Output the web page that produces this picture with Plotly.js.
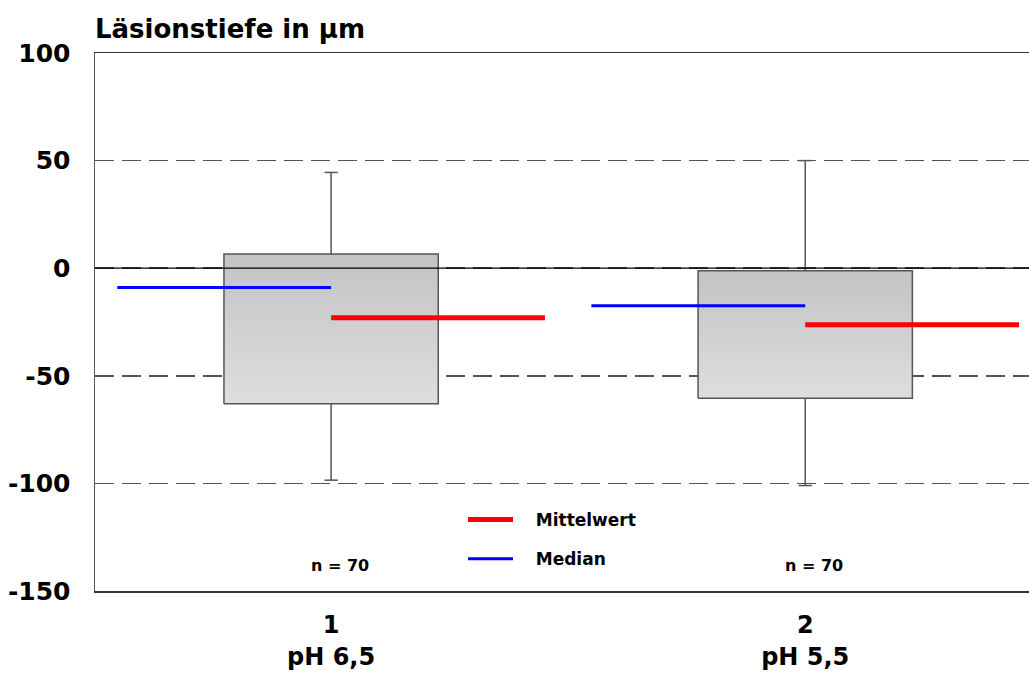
<!DOCTYPE html>
<html>
<head>
<meta charset="utf-8">
<script src="https://cdn.plot.ly/plotly-3.0.1.min.js"></script>
<style>
  html, body { margin: 0; padding: 0; background: #fff; overflow: hidden; }
  #chart { width: 1029px; height: 679px; }
</style>
</head>
<body>
<div id="chart"></div>
<script>
// Lesion depth (µm) per pH group
const groups = [1, 2];
const groupLabels = ["1<br>pH 6,5", "2<br>pH 5,5"];
const q1 = [-63, -60.4];
const q3 = [6.6, -1.2];
const upperWhisker = [44.5, 50];
const lowerWhisker = [-98.5, -101];
const medians = [-9, -17.5];
const means = [-23, -26.3];
const counts = [70, 70];
const legendNames = ["Mittelwert", "Median"];

const FONT = "DejaVu Sans, Arial, sans-serif";
const BOX_HALF = 0.226;     // half width of a box, in category units
const LINE_LEN = 0.451;     // length of the median / mean markers
const CAP_HALF = 0.014;     // half width of the whisker caps
const GREY = "#555555";
const PAD = "\u00a0\u00a0\u00a0";  // extra room between legend key and label

const traces = [];

// Boxes with a soft grey gradient
groups.forEach((g, i) => {
  traces.push({
    type: "scatter", mode: "lines",
    x: [g - BOX_HALF, g + BOX_HALF, g + BOX_HALF, g - BOX_HALF, g - BOX_HALF],
    y: [q1[i], q1[i], q3[i], q3[i], q1[i]],
    fill: "toself",
    fillgradient: { type: "vertical", colorscale: [[0, "#dedde0"], [1, "#c3c2c5"]] },
    line: { color: GREY, width: 1.5 },
    hoverinfo: "skip", showlegend: false
  });
  // whiskers with caps
  traces.push({
    type: "scatter", mode: "lines",
    x: [g, g, null, g - CAP_HALF, g + CAP_HALF, null, g, g, null, g - CAP_HALF, g + CAP_HALF],
    y: [q3[i], upperWhisker[i], null, upperWhisker[i], upperWhisker[i], null,
        q1[i], lowerWhisker[i], null, lowerWhisker[i], lowerWhisker[i]],
    line: { color: GREY, width: 1.5 },
    hoverinfo: "skip", showlegend: false
  });
});

// Mean markers (to the right of each group centre)
const meanX = [], meanY = [];
groups.forEach((g, i) => { meanX.push(g, g + LINE_LEN, null); meanY.push(means[i], means[i], null); });
traces.push({
  type: "scatter", mode: "lines", name: PAD + legendNames[0],
  x: meanX, y: meanY, legendgroup: "mean",
  line: { color: "#ff0000", width: 5 }, hoverinfo: "skip"
});

// Median markers (to the left of each group centre)
const medX = [], medY = [];
groups.forEach((g, i) => { medX.push(g - LINE_LEN, g, null); medY.push(medians[i], medians[i], null); });
traces.push({
  type: "scatter", mode: "lines", name: PAD + legendNames[1],
  x: medX, y: medY, legendgroup: "median",
  line: { color: "#0000ff", width: 3 }, hoverinfo: "skip"
});

const annotations = groups.map((g, i) => ({
  x: g, y: -138, xref: "x", yref: "y", xshift: 9,
  text: "<b>n = " + counts[i] + "</b>", showarrow: false,
  font: { family: FONT, size: 16, color: "#000" }
}));

const layout = {
  width: 1029, height: 679,
  margin: { l: 95, r: 0, t: 53, b: 88 },
  paper_bgcolor: "#fff", plot_bgcolor: "#fff",
  font: { family: FONT, color: "#000" },
  title: {
    text: "<b>Läsionstiefe in µm</b>",
    xref: "container", yref: "container",
    x: 95 / 1029, xanchor: "left",
    y: 1 - 29 / 679, yanchor: "middle",
    font: { family: FONT, size: 26, color: "#000" }
  },
  xaxis: {
    range: [0.502, 2.472],
    tickvals: groups, ticktext: groupLabels.map(t => "<b>" + t.replace("<br>", "</b><br><b>") + "</b>"),
    tickfont: { family: FONT, size: 24, color: "#000" },
    ticks: "", ticklabelstandoff: 12,
    showgrid: false, zeroline: false,
    showline: true, mirror: true, linecolor: "#333", linewidth: 1.5,
    fixedrange: true
  },
  yaxis: {
    range: [-150, 100],
    tickvals: [-150, -100, -50, 0, 50, 100],
    ticktext: ["-150", "-100", "-50", "0", "50", "100"].map(t => "<b>" + t + "</b>"),
    tickfont: { family: FONT, size: 25, color: "#000" },
    ticks: "", ticklabelstandoff: 18,
    showgrid: true, gridcolor: "#555", gridwidth: 1.5, griddash: "19px,8px",
    zeroline: false,
    showline: true, linecolor: "#555", linewidth: 1.5,
    fixedrange: true
  },
  shapes: [{
    type: "line", xref: "paper", yref: "y", x0: 0, x1: 1, y0: 0, y1: 0,
    line: { color: "#000", width: 1.2 }, layer: "above"
  }],
  annotations: annotations,
  showlegend: true,
  legend: {
    x: (463 - 95) / 934, xanchor: "left",
    y: (591 - 502) / 538, yanchor: "top",
    bgcolor: "rgba(0,0,0,0)", borderwidth: 0,
    traceorder: "grouped", tracegroupgap: 14,
    itemwidth: 45,
    font: { family: FONT, size: 17, color: "#000", weight: "bold" }
  }
};

Plotly.newPlot("chart", traces, layout, { displayModeBar: false, staticPlot: true });
</script>
</body>
</html>
